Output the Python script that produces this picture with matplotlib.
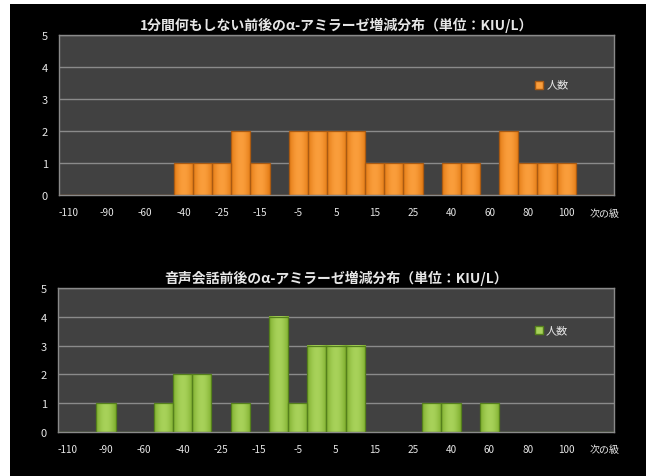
import matplotlib
matplotlib.use("Agg")
import matplotlib.pyplot as plt
from matplotlib.colors import LinearSegmentedColormap
import numpy as np

plt.rcParams['font.family'] = ['Noto Sans CJK JP', 'DejaVu Sans']

categories = ['-110', '-100', '-90', '-70', '-60', '-50', '-40', '-30', '-25', '-20',
              '-15', '-10', '-5', '0', '5', '10', '15', '20', '25', '30',
              '40', '50', '60', '70', '80', '90', '100', '110', '次の級']
counts_rest = [0, 0, 0, 0, 0, 0, 1, 1, 1, 2, 1, 0, 2, 2, 2, 2, 1, 1, 1, 0,
               1, 1, 0, 2, 1, 1, 1, 0, 0]
counts_voice = [0, 0, 1, 0, 0, 1, 2, 2, 0, 1, 0, 4, 1, 3, 3, 3, 0, 0, 0, 1,
                1, 0, 1, 0, 0, 0, 0, 0, 0]
title_rest = '1分間何もしない前後のα-アミラーゼ増減分布（単位：KIU/L）'
title_voice = '音声会話前後のα-アミラーゼ増減分布（単位：KIU/L）'
series_name = '人数'
yticks = [0, 1, 2, 3, 4, 5]

fig = plt.figure(figsize=(6.46, 4.77), dpi=100)
fig.patch.set_facecolor('white')
bg = fig.add_axes([10/646, 0, 1 - 10/646, 1 - 5/477])
bg.set_facecolor('black')
bg.set_xticks([]); bg.set_yticks([])
for s in bg.spines.values():
    s.set_visible(False)
bg.set_zorder(-10)

txtc = '#E6E6E6'
grad = np.linspace(0, 1, 64)
grad = np.sin(grad * np.pi)[None, :]


def draw(ax, counts, title, c_dark, c_light, edge, legend_y):
    cmap = LinearSegmentedColormap.from_list('g', [c_dark, c_light])
    x = np.arange(len(categories))
    ax.set_facecolor('#414141')
    for g in yticks[1:]:
        ax.axhline(g, color='#8A8A8A', lw=1.0, zorder=1)
    for xi, h in zip(x, counts):
        if h > 0:
            ax.imshow(grad, cmap=cmap, vmin=0, vmax=1, aspect='auto',
                      extent=(xi - 0.5, xi + 0.5, 0, h), zorder=2,
                      interpolation='bilinear')
    ax.bar(x, counts, width=1.0, color='none', edgecolor=edge, linewidth=0.9, zorder=3)
    ax.set_xlim(-0.5, len(categories) - 0.5)
    ax.set_ylim(0, 5)
    ax.set_aspect('auto')
    ax.set_yticks(yticks)
    ax.set_yticklabels([str(v) for v in yticks], color=txtc, fontsize=8)
    ax.set_xticks(x[::2])
    ax.set_xticklabels(categories[::2], color=txtc, fontsize=7.2)
    ax.tick_params(length=0, pad=9)
    ax.tick_params(axis='y', pad=8)
    for s in ax.spines.values():
        s.set_color('#8A8A8A')
        s.set_linewidth(1.0)
    ax.set_title(title, color=txtc, fontsize=10, fontweight='bold', pad=4)
    ax.plot([0.865], [legend_y], marker='s', markersize=5.5, color=c_light,
            markeredgecolor=edge, transform=ax.transAxes, clip_on=False, zorder=5)
    ax.text(0.878, legend_y, series_name, color=txtc, fontsize=8,
            transform=ax.transAxes, va='center', ha='left')

ax1 = fig.add_axes([59/646, 1 - 196/477, 555/646, 160/477])
draw(ax1, counts_rest, title_rest, '#E27A14', '#FA9E3C', '#A95A12', 0.69)

ax2 = fig.add_axes([58/646, 1 - 433/477, 556/646, 144/477])
draw(ax2, counts_voice, title_voice, '#7FAE2E', '#A8D25A', '#55801C', 0.71)

fig.savefig('out.png', dpi=100, facecolor=fig.get_facecolor())
